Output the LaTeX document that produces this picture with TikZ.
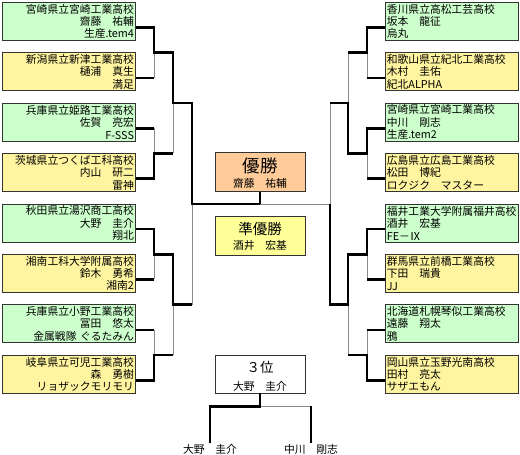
\documentclass[tikz,border=0pt]{standalone}
\usepackage{fontspec}
\setmainfont{Noto Sans CJK JP}
\usetikzlibrary{positioning,calc}
\definecolor{boxgreen}{RGB}{204,255,204}
\definecolor{boxyellow}{RGB}{255,245,160}
\definecolor{winorange}{RGB}{255,204,153}
\definecolor{runneryellow}{RGB}{255,255,153}

\begin{document}
\begin{tikzpicture}[x=1pt,y=-1pt,
		entry/.style={draw=black!80, line width=0.9pt, minimum width=133pt, minimum height=38pt,
			text width=130pt, inner xsep=1.5pt, inner ysep=0.5pt, font=\fontsize{10.8}{12.4}\selectfont},
		leftentry/.style={entry, align=right},
		rightentry/.style={entry, align=left},
		greenbox/.style={fill=boxgreen},
		yellowbox/.style={fill=boxyellow},
		centerbox/.style={draw=black!80, line width=0.9pt, minimum width=90pt, minimum height=39pt},
		namefont/.style={font=\fontsize{10.8}{12}\selectfont, inner sep=1.5pt},
		winline/.style={line width=2.6pt, black},
		loseline/.style={line width=0.7pt, black!45}]
		
		\useasboundingbox (0,0) rectangle (520,455);
		
		% left half of the draw
		\node[leftentry,greenbox,anchor=north west] (L1) at (2,2) {宮崎県立宮崎工業高校\\齋藤　祐輔\\生産.tem4};
		\node[leftentry,yellowbox,below=11.5pt of L1] (L2) {新潟県立新津工業高校\\樋浦　真生\\満足};
		\node[leftentry,greenbox,below=11.5pt of L2] (L3) {兵庫県立姫路工業高校\\佐賀　亮宏\\F-SSS};
		\node[leftentry,yellowbox,below=11.5pt of L3] (L4) {茨城県立つくば工科高校\\内山　研二\\雷神};
		\node[leftentry,greenbox,below=11.5pt of L4] (L5) {秋田県立湯沢商工高校\\大野　圭介\\翔北};
		\node[leftentry,yellowbox,below=11.5pt of L5] (L6) {湘南工科大学附属高校\\鈴木　勇希\\湘南2};
		\node[leftentry,greenbox,below=11.5pt of L6] (L7) {兵庫県立小野工業高校\\冨田　悠太\\金属戦隊 ぐるたみん};
		\node[leftentry,yellowbox,below=11.5pt of L7] (L8) {岐阜県立可児工業高校\\森　勇樹\\リョザックモリモリ};
		
		% right half of the draw
		\node[rightentry,greenbox,right=249pt of L1] (R1) {香川県立高松工芸高校\\坂本　龍征\\烏丸};
		\node[rightentry,yellowbox,right=249pt of L2] (R2) {和歌山県立紀北工業高校\\木村　圭佑\\紀北ALPHA};
		\node[rightentry,greenbox,right=249pt of L3] (R3) {宮崎県立宮崎工業高校\\中川　剛志\\生産.tem2};
		\node[rightentry,yellowbox,right=249pt of L4] (R4) {広島県立広島工業高校\\松田　博紀\\ロクジク　マスター};
		\node[rightentry,greenbox,right=249pt of L5] (R5) {福井工業大学附属福井高校\\酒井　宏基\\FE－Ⅸ};
		\node[rightentry,yellowbox,right=249pt of L6] (R6) {群馬県立前橋工業高校\\下田　瑞貴\\JJ};
		\node[rightentry,greenbox,right=249pt of L7] (R7) {北海道札幌琴似工業高校\\遠藤　翔太\\鴉};
		\node[rightentry,yellowbox,right=249pt of L8] (R8) {岡山県立玉野光南高校\\田村　亮太\\サザエもん};
		
		% results in the middle
		\node[centerbox,fill=winorange] (win) at (260,172.2) {};
		\node[font=\fontsize{17.5}{18}\selectfont] (wintitle) at ([yshift=6pt]win.center) {優勝};
		\node[namefont] (winname) at ([yshift=-11pt]win.center) {齋藤　祐輔};
		\node[centerbox,fill=runneryellow] (second) at (260,235.5) {};
		\node[font=\fontsize{14.5}{15}\selectfont] (secondtitle) at ([yshift=6.5pt]second.center) {準優勝};
		\node[namefont] (secondname) at ([yshift=-9.5pt]second.center) {酒井　宏基};
		\node[centerbox,fill=white,minimum height=38pt] (third) at (260,374) {};
		\node[font=\fontsize{13.5}{14}\selectfont] (thirdtitle) at ([yshift=7pt]third.center) {３位};
		\node[namefont] (thirdname) at ([yshift=-12pt]third.center) {大野　圭介};
		\node[namefont,anchor=north] (p1) at (210,443) {大野　圭介};
		\node[namefont,anchor=north] (p2) at (311,443) {中川　剛志};
		
		% exits of the entry boxes
		\foreach \i in {1,...,8}{
			\coordinate (l\i) at ([yshift=-6pt]L\i.east);
			\coordinate (r\i) at ([yshift=-6pt]R\i.west);
		}
		% junctions, round by round
		\coordinate (j11) at ($(l1)!0.5!(l2)+(18,0)$);
		\coordinate (j12) at ($(l3)!0.5!(l4)+(18,0)$);
		\coordinate (j13) at ($(l5)!0.5!(l6)+(18,0)$);
		\coordinate (j14) at ($(l7)!0.5!(l8)+(18,0)$);
		\coordinate (j21) at ($(j11)!0.5!(j12)+(19,0)$);
		\coordinate (j22) at ($(j13)!0.5!(j14)+(19,0)$);
		\coordinate (j31) at ($(j21)!0.5!(j22)+(19,0)$);
		\coordinate (k11) at ($(r1)!0.5!(r2)+(-18,0)$);
		\coordinate (k12) at ($(r3)!0.5!(r4)+(-18,0)$);
		\coordinate (k13) at ($(r5)!0.5!(r6)+(-18,0)$);
		\coordinate (k14) at ($(r7)!0.5!(r8)+(-18,0)$);
		\coordinate (k21) at ($(k11)!0.5!(k12)+(-19,0)$);
		\coordinate (k22) at ($(k13)!0.5!(k14)+(-19,0)$);
		\coordinate (k31) at ($(k21)!0.5!(k22)+(-18,0)$);
		
		% left bracket: losers grey, winners thick
		\draw[loseline] (l2 -| j11) -- (j11);
		\draw[loseline] (l3 -| j12) -- (j12);
		\draw[loseline] (l6 -| j13) -- (j13);
		\draw[loseline] (l7 -| j14) -- (j14);
		\draw[loseline] (j12 -| j21) -- (j21);
		\draw[loseline] (j14 -| j22) -- (j22);
		\draw[loseline] (j22 -| j31) -- (j31);
		\draw[winline] (l2) -- (l2 -| j11);
		\draw[winline] (l3) -- (l3 -| j12);
		\draw[winline] (l6) -- (l6 -| j13);
		\draw[winline] (l7) -- (l7 -| j14);
		\draw[winline] (l4) -| (j12) -- (j12 -| j21);
		\draw[winline] (l8) -| (j14) -- (j14 -| j22);
		\draw[winline] (l5) -| (j13) -| (j22) -- (j22 -| j31);
		\draw[winline] (l1) -| (j11) -| (j21) -| (j31) -| (win.south);
		
		% right bracket
		\draw[loseline] (r2 -| k11) -- (k11);
		\draw[loseline] (r4 -| k12) -- (k12);
		\draw[loseline] (r6 -| k13) -- (k13);
		\draw[loseline] (r7 -| k14) -- (k14);
		\draw[loseline] (k11 -| k21) -- (k21);
		\draw[loseline] (k14 -| k22) -- (k22);
		\draw[loseline] (k21 -| k31) -- (k31);
		\draw[loseline] (k31) -- (k31 -| win.south);
		\draw[winline] (r2) -- (r2 -| k11);
		\draw[winline] (r4) -- (r4 -| k12);
		\draw[winline] (r6) -- (r6 -| k13);
		\draw[winline] (r7) -- (r7 -| k14);
		\draw[winline] (r1) -| (k11) -- (k11 -| k21);
		\draw[winline] (r8) -| (k14) -- (k14 -| k22);
		\draw[winline] (r3) -| (k12) -| (k21) -- (k21 -| k31);
		\draw[winline] (r5) -| (k13) -| (k22) -| (k31);
		
		% match for third place
		\coordinate (m3) at ([yshift=-13pt]third.south);
		\draw[loseline] (m3) -- (m3 -| p2.north);
		\draw[winline] (third.south) -- (m3) -| (p1.north);
		\draw[winline] (m3 -| p2.north) -- (p2.north);
		
	\end{tikzpicture}
\end{document}
